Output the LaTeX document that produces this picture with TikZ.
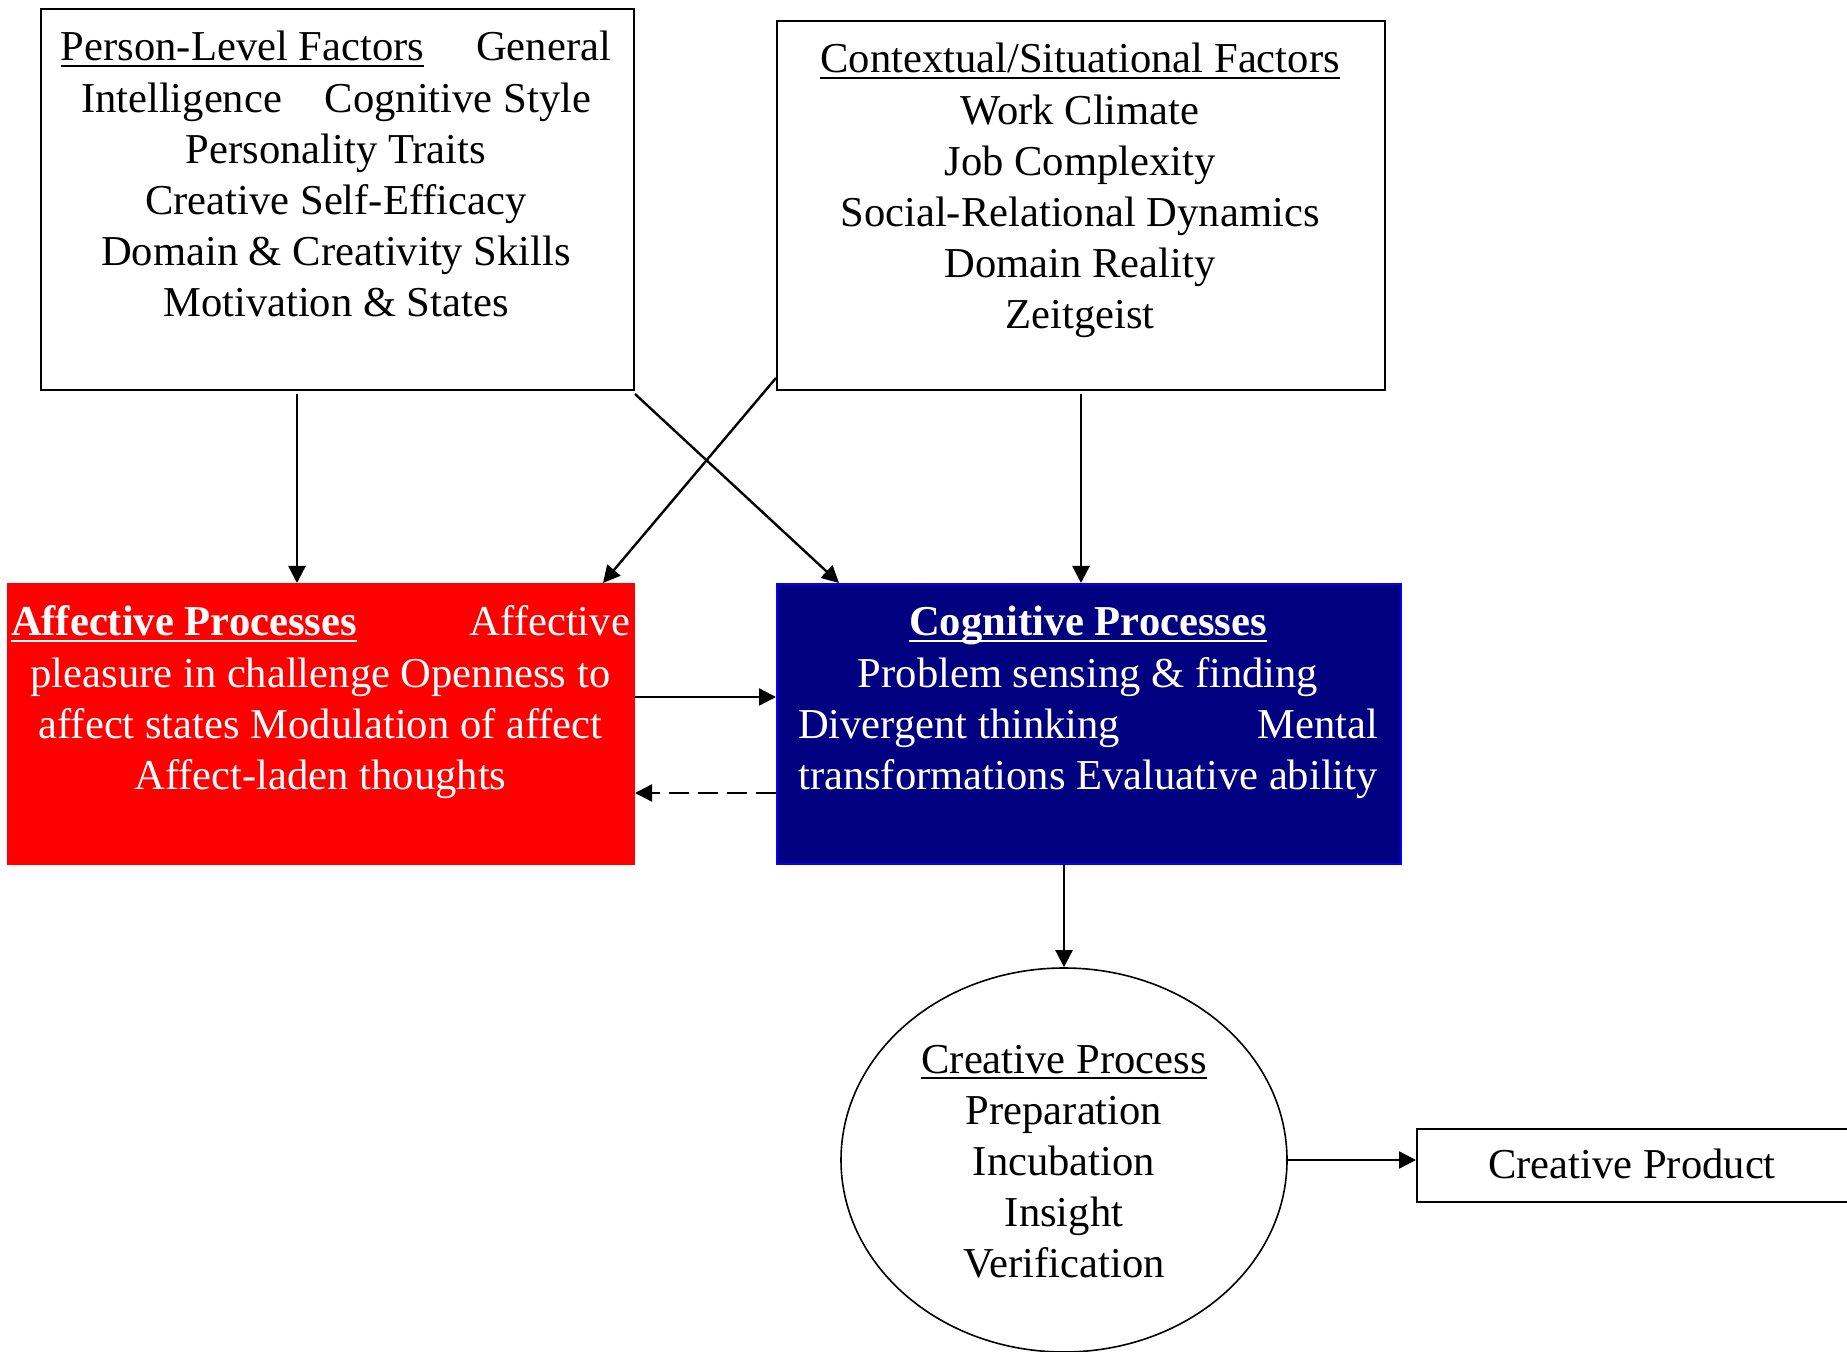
\documentclass[tikz,border=0pt]{standalone}
\usepackage{fontspec}
\setmainfont{Liberation Serif}
\usetikzlibrary{arrows.meta,shapes.geometric}
\definecolor{affred}{RGB}{255,0,0}
\definecolor{cognavy}{RGB}{0,0,128}
\definecolor{cogblue}{RGB}{0,0,255}
% underline at a fixed depth below the baseline
\newcommand\undl[1]{\setbox0\hbox{#1}\rlap{\rule[-3pt]{\wd0}{1.2pt}}\box0}
% centred lines; the node's baseline is the first line's baseline
\newcommand\stack[1]{\begin{tabular}[t]{@{}c@{}}#1\end{tabular}}

\begin{document}
\begin{tikzpicture}[x=0.5pt,y=-0.5pt,
  box/.style={draw=black,line width=1pt,inner sep=0pt},
  txt/.style={inner sep=0pt,anchor=base,font=\fontsize{21.3pt}{25.6pt}\selectfont},
  arr/.style={line width=1.2pt,-{Triangle[length=8.5pt,width=8.5pt]}}]
\useasboundingbox (0,0) rectangle (1847,1352);

% boxes
\node[box,minimum width=296.5pt,minimum height=190.5pt] (person) at (337.5,199.5) {};
\node[box,minimum width=304pt,minimum height=184.5pt] (context) at (1081,205.5) {};
\node[draw=affred,fill=affred,line width=1pt,inner sep=0pt,minimum width=313pt,minimum height=140pt] (affect) at (321,724) {};
\node[draw=cogblue,fill=cognavy,line width=1pt,inner sep=0pt,minimum width=312pt,minimum height=140pt] (cognit) at (1089,724) {};
\node[draw=black,line width=0.8pt,ellipse,inner sep=0pt,minimum width=223pt,minimum height=192pt] (proc) at (1064,1160) {};
\node[box,minimum width=241.5pt,minimum height=36.5pt] (product) at (1658.5,1165.5) {};

% texts
\node[txt] (persontext) at (336,61) {\stack{%
  \makebox[275pt]{\undl{Person-Level Factors}\hfill General}\\
  \makebox[255pt]{Intelligence\hfill Cognitive Style}\\
  Personality Traits\\
  Creative Self-Efficacy\\
  Domain \& Creativity Skills\\
  Motivation \& States}};
\node[txt] (contexttext) at (1080,73) {\stack{%
  \undl{Contextual/Situational Factors}\\
  Work Climate\\
  Job Complexity\\
  Social-Relational Dynamics\\
  Domain Reality\\
  Zeitgeist}};
\node[txt,text=white] (affecttext) at (320.5,636) {\stack{%
  \makebox[309.5pt]{\textbf{\undl{Affective Processes}}\hfill Affective}\\
  pleasure in challenge Openness to\\
  affect states Modulation of affect\\
  Affect-laden thoughts}};
\node[txt,text=white] (cognittext) at (1088,636) {\stack{%
  \textbf{\undl{Cognitive Processes}}\\
  Problem sensing \& finding\\
  \makebox[290pt]{Divergent thinking\hfill Mental}\\
  transformations Evaluative ability}};
\node[txt] (proctext) at (1064,1073) {\stack{%
  \undl{Creative Process}\\
  Preparation\\
  Incubation\\
  Insight\\
  Verification}};
\node[txt] (producttext) at (1632,1178) {Creative Product};

% connectors
\draw[arr] ([xshift=-20.25pt,yshift=-1.5pt]person.south) -- ([xshift=-20.25pt]person.south |- affect.north);
\draw[arr] ([yshift=-1.5pt]person.south east) -- ([xshift=31.5pt]cognit.north west);
\draw[arr] ([yshift=6.5pt]context.south west) -- ([xshift=-16pt]affect.north east);
\draw[arr] ([yshift=-1.5pt]context.south) -- (context.south |- cognit.north);
\draw[arr] ([yshift=13.5pt]affect.east) -- ([yshift=13.5pt]affect.east -| cognit.west);
\draw[arr,dash pattern=on 10pt off 4.5pt] ([yshift=-34.5pt]cognit.west) -- ([yshift=-34.5pt]cognit.west -| affect.east);
\draw[arr] (proc.north |- cognit.south) -- (proc.north);
\draw[arr] (proc.east) -- (proc.east -| product.west);
\end{tikzpicture}
\end{document}
